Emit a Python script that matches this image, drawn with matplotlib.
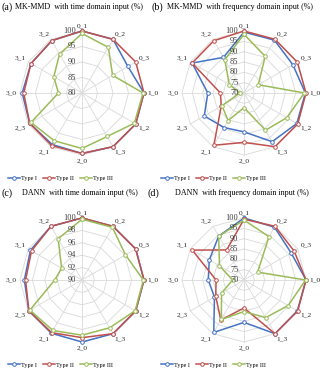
import numpy as np
import matplotlib
matplotlib.use("Agg")
import matplotlib.pyplot as plt
from matplotlib.lines import Line2D
from matplotlib.transforms import offset_copy

plt.rcParams["font.family"] = ["Liberation Serif", "DejaVu Serif"]

# categories (transfer tasks), clockwise from top
categories = ["0_1", "0_2", "0_3", "1_0", "1_2", "1_3",
              "2_0", "2_1", "2_3", "3_0", "3_1", "3_2"]
series_names = ["Type I", "Type II", "Type III"]
colors = ["#4472C4", "#C0504D", "#9BBB59"]

# (a) MK-MMD, time domain
a_type1 = [100, 100, 97.1, 100, 100, 100, 99.5, 99.2, 99.5, 99.3, 99.0, 99.5]
a_type2 = [100, 100, 100, 100, 100, 100, 99.5, 99.6, 99.5, 98.8, 99.0, 99.5]
a_type3 = [99.2, 97.0, 91.4, 99.7, 99.5, 96.2, 97.9, 97.8, 99.0, 87.6, 90.5, 94.5]

# (b) MK-MMD, frequency domain
b_type1 = [99.5, 99.5, 97.3, 99.7, 99.5, 97.2, 88.8, 89.3, 92.2, 87.5, 99.0, 89.9]
b_type2 = [100, 100, 99.8, 100, 100, 100, 93.9, 99.2, 82.7, 81.4, 99.0, 99.2]
b_type3 = [98.4, 90.5, 78.0, 99.2, 93.9, 90.8, 77.1, 85.4, 82.3, 72.0, 78.2, 88.6]

# (c) DANN, time domain
c_type1 = [100, 100, 100, 100, 100, 100, 100, 99.9, 99.9, 99.3, 99.6, 100]
c_type2 = [100, 100, 100, 100, 100, 100, 99.3, 99.8, 99.9, 99.1, 99.4, 100]
c_type3 = [99.8, 99.8, 98.1, 99.9, 99.9, 98.9, 98.9, 99.4, 99.7, 94.4, 93.8, 97.7]

# (d) DANN, frequency domain
d_type1 = [100, 99.5, 96.3, 100, 99.8, 100, 90.5, 99.3, 86.5, 87.3, 89.4, 94.5]
d_type2 = [99.4, 100, 98.0, 100, 100, 100, 83.5, 92.4, 85.8, 83.5, 98.9, 86.8]
d_type3 = [99.0, 94.2, 77.6, 99.8, 94.7, 91.0, 85.3, 92.0, 82.5, 75.5, 83.7, 94.5]

ticks_a = [80, 85, 90, 95, 100]
ticks_b = [70, 75, 80, 85, 90, 95, 100]
ticks_c = [90, 92, 94, 96, 98, 100]
ticks_d = [70, 75, 80, 85, 90, 95, 100]

W, H = 327, 373
fig = plt.figure(figsize=(W / 100, H / 100), dpi=100)

R = 62
panels = [
    # letter, title, data, ticks, center x, center y, letter x, title x, title y, legend x (px)
    ("(a)", "MK-MMD  with time domain input (%)", [a_type1, a_type2, a_type3], ticks_a, 82, 93, 2, 15, 7, 8),
    ("(b)", "MK-MMD  with frequency domain input (%)", [b_type1, b_type2, b_type3], ticks_b, 244, 93, 151, 167, 7, 161),
    ("(c)", "DANN  with time domain input (%)", [c_type1, c_type2, c_type3], ticks_c, 82, 280, 2, 22, 193, 8),
    ("(d)", "DANN  with frequency domain input (%)", [d_type1, d_type2, d_type3], ticks_d, 244, 280, 148, 175, 193, 161),
]

n = len(categories)
angles = np.linspace(0, 2 * np.pi, n, endpoint=False)
closed = np.append(angles, angles[0])
grid_col = "#d9d9d9"

for letter, title, data, ticks, cx, cy, lx, tx, ty, legx in panels:
    ax = fig.add_axes([(cx - R) / W, 1 - (cy + R) / H, 2 * R / W, 2 * R / H],
                      projection="polar")
    ax.set_theta_offset(np.pi / 2)
    ax.set_theta_direction(-1)
    rmin, rmax = ticks[0], ticks[-1]
    ax.set_ylim(rmin, rmax)
    ax.grid(False)
    ax.spines["polar"].set_visible(False)
    ax.set_xticks([])
    ax.set_yticks([])
    ax.patch.set_alpha(0)

    # polygon rings and spokes
    for v in ticks[1:]:
        ax.plot(closed, [v] * (n + 1), color=grid_col, lw=0.6, zorder=1, clip_on=False)
    for a in angles:
        ax.plot([a, a], [rmin, rmax], color=grid_col, lw=0.6, zorder=1, clip_on=False)

    # series
    for vals, col in zip(data, colors):
        ax.plot(closed, np.append(vals, vals[0]), color=col, lw=1.1,
                marker="o", ms=2.6, mfc="white", mec=col, mew=0.7,
                zorder=3, clip_on=False)

    # radial tick labels along the top axis
    trans = offset_copy(ax.transData, fig=fig, x=-4, y=0, units="points")
    for v in ticks:
        ax.text(0, v, str(v), transform=trans, ha="right", va="center",
                fontsize=6, color="#404040", zorder=4)

    # category labels
    r_lab = rmax + (rmax - rmin) * 0.05
    for a, cat in zip(angles, categories):
        s, c = np.sin(a), np.cos(a)
        ha = "left" if s > 0.1 else ("right" if s < -0.1 else "center")
        va = "bottom" if c > 0.1 else ("top" if c < -0.1 else "center")
        ax.text(a, r_lab, cat, ha=ha, va=va, fontsize=5.3, color="#262626")

    # titles
    fig.text(lx / W, 1 - ty / H, letter, fontsize=7.2, ha="left", va="center")
    fig.text(tx / W, 1 - ty / H, title, fontsize=5.8, ha="left", va="center")

    # legend below each panel
    handles = [Line2D([], [], color=col, lw=1.1, marker="o", ms=2.6,
                      mfc="white", mec=col, mew=0.7) for col in colors]
    fig.legend(handles, series_names, loc="center left", ncol=3, frameon=False,
               fontsize=4.4, handlelength=1.9, handletextpad=0.25,
               columnspacing=1.0, borderpad=0, borderaxespad=0,
               bbox_to_anchor=(legx / W, 1 - (cy + 85) / H))

fig.savefig("out.png", dpi=100)
